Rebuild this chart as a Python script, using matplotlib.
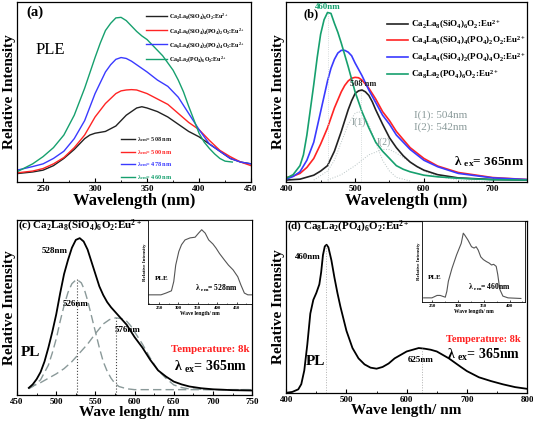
import numpy as np
import matplotlib
matplotlib.use('Agg')
import matplotlib.pyplot as plt
import matplotlib.ticker as tck

plt.rcParams['font.family'] = ['Liberation Serif', 'DejaVu Serif']
plt.rcParams['font.weight'] = 'bold'
plt.rcParams['mathtext.fontset'] = 'custom'
plt.rcParams['mathtext.rm'] = 'Liberation Serif:bold'
plt.rcParams['mathtext.bf'] = 'Liberation Serif:bold'
plt.rcParams['mathtext.it'] = 'Liberation Serif:bold'
plt.rcParams['mathtext.default'] = 'bf'

### DATA ############################################
names = ['Ca$_2$La$_8$(SiO$_4$)$_6$O$_2$:Eu$^{2+}$',
         'Ca$_4$La$_6$(SiO$_4$)$_4$(PO$_4$)$_2$O$_2$:Eu$^{2+}$',
         'Ca$_6$La$_4$(SiO$_4$)$_2$(PO$_4$)$_4$O$_2$:Eu$^{2+}$',
         'Ca$_8$La$_2$(PO$_4$)$_6$O$_2$:Eu$^{2+}$']
colors = ['#222222', '#ff2424', '#3a3aff', '#16a06e']
em_labels = ['λ$_{em}$= 508 nm', 'λ$_{em}$= 500 nm', 'λ$_{em}$= 478 nm', 'λ$_{em}$= 460 nm']

# (a) PLE spectra
a_black_x = [225, 240, 250, 260, 270, 280, 290, 295, 300, 305, 310, 315, 320, 325, 330, 335, 340, 345, 350, 360, 370, 380, 390, 395,
             400, 410, 420, 430, 440, 450]
a_black = [0.046, 0.055, 0.065, 0.09, 0.13, 0.18, 0.24, 0.26, 0.27, 0.275, 0.28, 0.295, 0.31, 0.34, 0.37, 0.39, 0.41, 0.417, 0.41,
           0.39, 0.36, 0.32, 0.28, 0.265, 0.25, 0.21, 0.17, 0.13, 0.11, 0.10]
a_red_x = [225, 240, 250, 260, 270, 280, 290, 300, 310, 320, 325, 330, 335, 340, 350, 360, 370, 380, 390, 400, 410, 420, 430, 440, 450]
a_red = [0.05, 0.06, 0.074, 0.10, 0.135, 0.19, 0.26, 0.36, 0.435, 0.49, 0.505, 0.51, 0.512, 0.51, 0.49, 0.46, 0.43, 0.38, 0.33, 0.29,
         0.23, 0.175, 0.14, 0.11, 0.09]
a_blue_x = [225, 240, 250, 260, 270, 280, 290, 300, 305, 310, 315, 320, 325, 330, 335, 340, 350, 360, 370, 380, 390, 400, 410, 420,
            430, 440, 450]
a_blue = [0.065, 0.085, 0.10, 0.13, 0.17, 0.24, 0.34, 0.49, 0.55, 0.61, 0.65, 0.68, 0.69, 0.685, 0.67, 0.65, 0.61, 0.565, 0.53, 0.47,
          0.38, 0.29, 0.21, 0.17, 0.13, 0.11, 0.10]
a_green_x = [225, 240, 250, 260, 270, 280, 290, 300, 305, 310, 315, 320, 325, 330, 335, 340, 345, 350, 355, 360, 365, 370, 375, 380,
             385, 390, 395, 400, 405, 410, 415, 420, 425, 432]
a_green = [0.056, 0.10, 0.14, 0.19, 0.26, 0.37, 0.52, 0.69, 0.77, 0.84, 0.88, 0.91, 0.913, 0.895, 0.865, 0.835, 0.81, 0.79, 0.76,
           0.73, 0.70, 0.66, 0.62, 0.565, 0.50, 0.42, 0.345, 0.27, 0.22, 0.185, 0.155, 0.13, 0.115, 0.11]

# (b) PL spectra
b_black_x = [400, 420, 440, 450, 460, 470, 480, 490, 495, 500, 505, 510, 515, 520, 525, 530, 540, 550, 560, 570, 580, 590, 600, 620,
             650, 700, 750]
b_black = [0.01, 0.015, 0.037, 0.06, 0.09, 0.17, 0.28, 0.40, 0.45, 0.49, 0.505, 0.51, 0.50, 0.48, 0.445, 0.40, 0.32, 0.245, 0.19,
           0.145, 0.11, 0.085, 0.065, 0.04, 0.022, 0.013, 0.01]
b_red_x = [400, 410, 420, 430, 440, 450, 460, 470, 480, 485, 490, 495, 500, 505, 510, 520, 530, 540, 550, 560, 570, 580, 590, 600,
           620, 650, 700, 750]
b_red = [0.024, 0.032, 0.047, 0.08, 0.13, 0.21, 0.30, 0.41, 0.50, 0.535, 0.56, 0.575, 0.58, 0.578, 0.565, 0.52, 0.46, 0.39, 0.34,
         0.28, 0.235, 0.19, 0.16, 0.13, 0.088, 0.052, 0.024, 0.013]
b_blue_x = [400, 410, 420, 430, 440, 450, 460, 465, 470, 475, 480, 485, 490, 495, 500, 510, 520, 530, 540, 550, 560, 570, 580, 590,
            600, 620, 650, 700, 750]
b_blue = [0.015, 0.03, 0.056, 0.12, 0.22, 0.39, 0.56, 0.63, 0.68, 0.715, 0.73, 0.73, 0.72, 0.70, 0.66, 0.59, 0.51, 0.44, 0.37, 0.32,
          0.26, 0.22, 0.18, 0.15, 0.12, 0.084, 0.047, 0.022, 0.013]
b_green_x = [400, 410, 420, 425, 430, 435, 440, 445, 450, 455, 460, 465, 470, 475, 480, 485, 490, 495, 500, 510, 520, 530, 540, 550,
             560, 570, 580, 600, 620, 650, 700, 750]
b_green = [0.02, 0.04, 0.09, 0.15, 0.26, 0.40, 0.54, 0.69, 0.82, 0.90, 0.94, 0.935, 0.88, 0.83, 0.77, 0.705, 0.64, 0.57, 0.50, 0.39,
           0.30, 0.22, 0.17, 0.13, 0.09, 0.07, 0.056, 0.037, 0.028, 0.02, 0.012, 0.01]
i1_x = [440, 460, 470, 480, 490, 500, 505, 510, 520, 530, 540, 550, 560, 580]
i1_y = [0.01, 0.06, 0.12, 0.22, 0.32, 0.38, 0.39, 0.38, 0.32, 0.22, 0.12, 0.06, 0.025, 0.005]
i2_x = [460, 480, 500, 520, 540, 550, 560, 580, 600, 620, 650, 700]
i2_y = [0.01, 0.04, 0.09, 0.15, 0.18, 0.18, 0.16, 0.11, 0.06, 0.03, 0.01, 0.0]

# (c) low-temperature PL of Ca2La8(SiO4)6O2:Eu2+
c_x = [465, 470, 475, 480, 485, 490, 495, 500, 505, 510, 515, 520, 525, 530, 535, 540, 545, 550, 555, 560, 565, 570, 575, 580, 590,
       600, 610, 620, 630, 640, 650, 660, 670, 685, 700, 725, 750]
c_y = [0.04, 0.06, 0.09, 0.13, 0.19, 0.27, 0.36, 0.46, 0.58, 0.69, 0.77, 0.84, 0.885, 0.895, 0.876, 0.83, 0.76, 0.69, 0.62, 0.57,
       0.53, 0.50, 0.475, 0.45, 0.40, 0.33, 0.27, 0.20, 0.14, 0.105, 0.076, 0.06, 0.048, 0.038, 0.032, 0.027, 0.025]
c_g1_x = [465, 470, 480, 490, 495, 500, 505, 510, 515, 520, 526, 532, 536, 540, 545, 550, 555, 560, 565, 570, 575, 580, 590, 600,
          650, 700, 750]
c_g1_y = [0.035, 0.048, 0.086, 0.17, 0.24, 0.32, 0.42, 0.51, 0.585, 0.635, 0.66, 0.64, 0.60, 0.54, 0.45, 0.36, 0.27, 0.19, 0.135,
          0.095, 0.065, 0.048, 0.035, 0.03, 0.03, 0.03, 0.03]
c_g2_x = [465, 480, 500, 510, 520, 530, 540, 550, 560, 568, 576, 584, 590, 595, 600, 605, 610, 620, 630, 640, 650, 660, 670, 700, 750]
c_g2_y = [0.04, 0.07, 0.12, 0.15, 0.19, 0.24, 0.29, 0.35, 0.405, 0.43, 0.44, 0.435, 0.42, 0.395, 0.36, 0.325, 0.29, 0.21, 0.14, 0.095,
          0.057, 0.042, 0.034, 0.03, 0.03]
c_ple_x = [224, 255, 268, 282, 288, 293, 301, 308, 317, 330, 343, 352, 360, 369, 378, 389, 397, 406, 418, 429, 441, 453, 461, 470,
           479, 490]
c_ple_y = [0.024, 0.024, 0.05, 0.083, 0.22, 0.46, 0.66, 0.76, 0.83, 0.86, 0.87, 0.93, 0.98, 0.93, 0.83, 0.77, 0.71, 0.63, 0.54, 0.46,
           0.39, 0.29, 0.17, 0.05, 0.024, 0.024]

# (d) low-temperature PL of Ca8La2(PO4)6O2:Eu2+
d_x = [400, 410, 420, 425, 430, 435, 440, 445, 450, 455, 458, 461, 464, 467, 470, 475, 480, 485, 490, 495, 500, 510, 520, 530, 540,
       550, 560, 570, 580, 590, 600, 610, 620, 630, 640, 650, 660, 670, 680, 690, 700, 720, 740, 760, 780, 800]
d_y = [0.0, 0.005, 0.02, 0.05, 0.13, 0.28, 0.46, 0.54, 0.58, 0.63, 0.70, 0.80, 0.85, 0.86, 0.845, 0.77, 0.67, 0.58, 0.50, 0.43, 0.36,
       0.26, 0.20, 0.165, 0.146, 0.14, 0.15, 0.17, 0.20, 0.22, 0.24, 0.25, 0.26, 0.256, 0.25, 0.24, 0.22, 0.20, 0.175, 0.15, 0.126,
       0.09, 0.068, 0.049, 0.033, 0.023]
d_ple_x = [233, 249, 259, 265, 275, 278, 281, 288, 297, 306, 310, 313, 319, 326, 331, 335, 339, 344, 349, 355, 360, 365, 369, 374, 377,
           381, 387, 397, 422]
d_ple_y = [0.024, 0.024, 0.06, 0.06, 0.034, 0.12, 0.27, 0.46, 0.66, 0.83, 0.98, 0.95, 0.88, 0.78, 0.76, 0.78, 0.73, 0.63, 0.59, 0.56,
           0.54, 0.51, 0.52, 0.49, 0.37, 0.15, 0.05, 0.024, 0.015]
#####################################################

fig = plt.figure(figsize=(5.33, 4.21), dpi=100)
ax_a = fig.add_axes([0.032, 0.568, 0.439, 0.428])
ax_b = fig.add_axes([0.537, 0.568, 0.452, 0.428])
ax_c = fig.add_axes([0.032, 0.062, 0.441, 0.416])
ax_d = fig.add_axes([0.537, 0.067, 0.452, 0.409])


def style(ax, xlim, major, minor, xlabel, fs_tick=6.5, fs_lab=12):
    ax.set_xlim(*xlim)
    ax.set_ylim(0, 1)
    ax.set_yticks([])
    ax.xaxis.set_major_locator(tck.MultipleLocator(major))
    ax.xaxis.set_minor_locator(tck.MultipleLocator(minor))
    ax.tick_params(axis='x', which='both', direction='in', labelsize=fs_tick, pad=2)
    ax.tick_params(axis='x', which='major', length=3, width=0.8)
    ax.tick_params(axis='x', which='minor', length=1.8, width=0.6)
    ax.set_xlabel(xlabel, fontsize=fs_lab, fontweight='bold', labelpad=0)
    ax.set_ylabel('Relative Intensity', fontsize=11, fontweight='bold', labelpad=1)
    for s in ax.spines.values():
        s.set_linewidth(0.9)


# ---- (a)
style(ax_a, (225, 450), 50, 25, 'Wavelength (nm)')
ax_a.xaxis.set_major_formatter(tck.FuncFormatter(lambda v, p: '' if v == 225 else '%d' % v))
lines_a = []
for xs, ys, c in [(a_black_x, a_black, colors[0]), (a_red_x, a_red, colors[1]),
                  (a_blue_x, a_blue, colors[2]), (a_green_x, a_green, colors[3])]:
    l, = ax_a.plot(xs, ys, color=c, lw=1.0)
    lines_a.append(l)
leg1 = ax_a.legend(lines_a, names, loc='upper right', bbox_to_anchor=(0.995, 0.975), frameon=False,
                   prop={'size': 4.2, 'weight': 'bold'}, handlelength=3.6, handletextpad=0.3, labelspacing=0.75)
ax_a.add_artist(leg1)
ax_a.legend(lines_a, em_labels, loc='upper left', bbox_to_anchor=(0.42, 0.29), frameon=False,
            prop={'size': 4.5, 'weight': 'bold'}, handlelength=2.3, handletextpad=0.2, labelspacing=0.6,
            labelcolor='linecolor')
ax_a.text(0.04, 0.94, '(a)', transform=ax_a.transAxes, fontsize=10.5, fontweight='bold', va='center')
ax_a.text(0.08, 0.73, 'PLE', transform=ax_a.transAxes, fontsize=12, fontweight='normal', va='center')

# ---- (b)
style(ax_b, (400, 750), 100, 50, 'Wavelength (nm)')
ax_b.plot(i1_x, i1_y, color='#b8c4c4', lw=0.7, ls=':')
ax_b.plot(i2_x, i2_y, color='#b8c4c4', lw=0.7, ls=':')
lines_b = []
for xs, ys, c in zip([b_black_x, b_red_x, b_blue_x, b_green_x], [b_black, b_red, b_blue, b_green], colors):
    l, = ax_b.plot(xs, ys, color=c, lw=1.2)
    lines_b.append(l)
ax_b.vlines([460], 0, 0.94, colors='#c8d0d0', lw=0.6, ls=':')
ax_b.vlines([508], 0, 0.51, colors='#c8d0d0', lw=0.6, ls=':')
ax_b.text(460, 0.97, '460nm', color=colors[3], fontsize=6.5, fontweight='bold', ha='center', va='center')
ax_b.text(512, 0.545, '508 nm', color='#222222', fontsize=6, fontweight='bold', ha='center', va='center')
ax_b.text(505, 0.33, 'I(1)', color='#8a9a9a', fontsize=7, fontweight='normal', ha='center', va='center')
ax_b.text(542, 0.22, 'I(2)', color='#8a9a9a', fontsize=7, fontweight='normal', ha='center', va='center')
ax_b.text(585, 0.37, 'I(1): 504nm', color='#8a9a9a', fontsize=8, fontweight='normal', va='center')
ax_b.text(585, 0.305, 'I(2): 542nm', color='#8a9a9a', fontsize=8, fontweight='normal', va='center')
ax_b.text(745, 0.11, 'λ $_{ex}$= 365nm', color='black', fontsize=9.5, fontweight='bold', ha='right', va='center')
ax_b.legend(lines_b, names, loc='upper left', bbox_to_anchor=(0.385, 0.955), frameon=False,
            prop={'size': 6.5, 'weight': 'bold'}, handlelength=2.3, handletextpad=0.3, labelspacing=0.45)
ax_b.text(0.07, 0.93, '(b)', transform=ax_b.transAxes, fontsize=9, fontweight='bold', va='center')

# ---- (c)
style(ax_c, (450, 750), 50, 25, 'Wave length/ nm', fs_lab=11)
ax_c.plot(c_g1_x, c_g1_y, color='#8a9999', lw=1.0, ls=(0, (6, 3)))
ax_c.plot(c_g2_x, c_g2_y, color='#8a9999', lw=1.0, ls=(0, (6, 3)))
ax_c.plot(c_x, c_y, color='black', lw=1.3)
ax_c.vlines([526], 0, 0.66, colors='#444444', lw=0.8, ls=':')
ax_c.vlines([576], 0, 0.44, colors='#444444', lw=0.8, ls=':')
ax_c.text(0.005, 0.965, '(c) ' + names[0], transform=ax_c.transAxes, fontsize=7.9, fontweight='bold', va='center')
ax_c.text(498, 0.82, '528nm', fontsize=6.5, fontweight='bold', ha='center', va='center')
ax_c.text(525, 0.52, '526nm', fontsize=6.5, fontweight='bold', ha='center', va='center')
ax_c.text(591, 0.37, '576nm', fontsize=6.5, fontweight='bold', ha='center', va='center')
ax_c.text(467, 0.24, 'PL', fontsize=11, fontweight='bold', ha='center', va='center')
ax_c.text(697, 0.26, 'Temperature: 8k', color='#ff2020', fontsize=7.8, fontweight='bold', ha='center', va='center')
ax_c.text(697, 0.16, 'λ $_{ex}$= 365nm', fontsize=10, fontweight='bold', ha='center', va='center')

# ---- (d)
style(ax_d, (400, 800), 100, 50, 'Wave length/ nm', fs_lab=11)
ax_d.plot(d_x, d_y, color='black', lw=1.3)
ax_d.vlines([466], 0, 0.86, colors='#b0b0b0', lw=0.7, ls=':')
ax_d.vlines([625], 0, 0.26, colors='#b0b0b0', lw=0.7, ls=':')
ax_d.text(0.005, 0.965, '(d) ' + names[3], transform=ax_d.transAxes, fontsize=7.9, fontweight='bold', va='center')
ax_d.text(436, 0.79, '460nm', fontsize=6.5, fontweight='bold', ha='center', va='center')
ax_d.text(624, 0.19, '625nm', fontsize=6.5, fontweight='bold', ha='center', va='center')
ax_d.text(449, 0.18, 'PL', fontsize=11, fontweight='bold', ha='center', va='center')
ax_d.text(728, 0.31, 'Temperature: 8k', color='#ff2020', fontsize=7.5, fontweight='bold', ha='center', va='center')
ax_d.text(728, 0.22, 'λ $_{ex}$= 365nm', fontsize=10, fontweight='bold', ha='center', va='center')


# ---- insets
def inset(rect, xs, ys, xlim, ylim, label):
    ax = fig.add_axes(rect)
    ax.plot(xs, ys, color='#555555', lw=0.8)
    ax.set_xlim(*xlim)
    ax.set_ylim(*ylim)
    ax.set_yticks([])
    ax.xaxis.set_major_locator(tck.MultipleLocator(50))
    ax.xaxis.set_minor_locator(tck.MultipleLocator(25))
    ax.tick_params(axis='x', which='both', direction='in', labelsize=3.5, pad=1.5)
    ax.tick_params(axis='x', which='major', length=1.5, width=0.5)
    ax.tick_params(axis='x', which='minor', length=1, width=0.4)
    ax.set_xlabel('Wave length/ nm', fontsize=4, fontweight='bold', labelpad=0.5)
    ax.set_ylabel('Relative Intensity', fontsize=3.6, fontweight='bold', labelpad=1)
    for s in ax.spines.values():
        s.set_linewidth(0.6)
    ax.text(0.06, 0.30, 'PLE', transform=ax.transAxes, fontsize=5, fontweight='bold', va='center')
    ax.text(0.45, 0.18, label, transform=ax.transAxes, fontsize=5.5, fontweight='bold', va='center')
    return ax


inset([0.278, 0.278, 0.195, 0.199], c_ple_x, c_ple_y, (222, 490), (-0.11, 1.12), 'λ $_{em}$= 528nm')
inset([0.792, 0.283, 0.193, 0.192], d_ple_x, d_ple_y, (230, 430), (-0.035, 1.16), 'λ $_{em}$= 460nm')

fig.savefig('out.png', dpi=100)
